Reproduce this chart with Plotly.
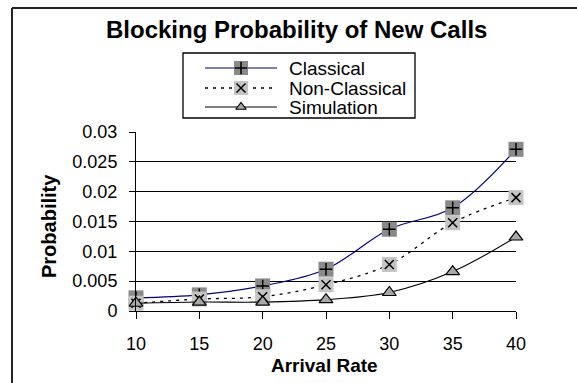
import plotly.graph_objects as go

# Arrival rate (x) and blocking probability of new calls for each model
arrival_rate = [10, 15, 20, 25, 30, 35, 40]
classical = [0.0022, 0.0027, 0.0042, 0.0070, 0.0137, 0.0173, 0.0271]
non_classical = [0.0013, 0.0020, 0.0024, 0.0044, 0.0078, 0.0148, 0.0190]
simulation = [0.0013, 0.0015, 0.0015, 0.0019, 0.0031, 0.0066, 0.0124]

x_ticks = [10, 15, 20, 25, 30, 35, 40]
y_ticks = [0, 0.005, 0.01, 0.015, 0.02, 0.025, 0.03]
y_tick_text = ["0", "0.005", "0.01", "0.015", "0.02", "0.025", "0.03"]

series_names = ["Classical", "Non-Classical", "Simulation"]

W, H = 577, 383
FONT = "Liberation Sans, Arial, sans-serif"

NAVY = "#000080"
DARK_SQ = "#8a8a8a"
LIGHT_SQ = "#c4c4c4"
TRI_FILL = "#a8a8a8"

# plot-area box in pixels
PX_L, PX_R, PX_T, PX_B = 136, 516, 132, 311
# legend box in pixels
LG_L, LG_R, LG_T, LG_B = 183, 415, 53, 118


def fx(px):
    return px / W


def fy(py):
    return 1 - py / H


fig = go.Figure()

line_styles = [
    dict(color=NAVY, width=1.2),
    dict(color="black", width=1.3, dash="3px,5px"),
    dict(color="black", width=1.1),
]
square_fills = [DARK_SQ, LIGHT_SQ, None]
overlay_symbols = ["cross-thin", "x-thin", None]
values = [classical, non_classical, simulation]

for name, vals, ls, fill, ov in zip(series_names, values, line_styles,
                                    square_fills, overlay_symbols):
    if fill is not None:
        fig.add_trace(go.Scatter(
            x=arrival_rate, y=vals, mode="lines+markers", name=name,
            line=dict(shape="spline", smoothing=1, **ls),
            marker=dict(symbol="square", size=15, color=fill,
                        line=dict(width=0)),
            cliponaxis=False, showlegend=False, hoverinfo="skip"))
        fig.add_trace(go.Scatter(
            x=arrival_rate, y=vals, mode="markers", name=name,
            marker=dict(symbol=ov, size=9, color="black",
                        line=dict(width=1.5, color="black")),
            cliponaxis=False, showlegend=False, hoverinfo="skip"))
    else:
        fig.add_trace(go.Scatter(
            x=arrival_rate, y=vals, mode="lines+markers", name=name,
            line=dict(shape="spline", smoothing=1, **ls),
            marker=dict(symbol="triangle-up", size=12, color=TRI_FILL,
                        line=dict(width=1.2, color="black")),
            cliponaxis=False, showlegend=False, hoverinfo="skip"))

# legend samples, drawn on a hidden pixel-scaled axis pair
row_y = [68, 88, 107]
for name, y, ls, fill, ov in zip(series_names, row_y, line_styles,
                                 square_fills, overlay_symbols):
    fig.add_trace(go.Scatter(
        x=[205, 277], y=[y, y], mode="lines", line=ls,
        xaxis="x2", yaxis="y2", showlegend=False, hoverinfo="skip",
        cliponaxis=False))
    if fill is not None:
        fig.add_trace(go.Scatter(
            x=[241], y=[y], mode="markers",
            marker=dict(symbol="square", size=14, color=fill,
                        line=dict(width=0)),
            xaxis="x2", yaxis="y2", showlegend=False, hoverinfo="skip",
            cliponaxis=False))
        fig.add_trace(go.Scatter(
            x=[241], y=[y], mode="markers",
            marker=dict(symbol=ov, size=9, color="black",
                        line=dict(width=1.5, color="black")),
            xaxis="x2", yaxis="y2", showlegend=False, hoverinfo="skip",
            cliponaxis=False))
    else:
        fig.add_trace(go.Scatter(
            x=[241], y=[y], mode="markers",
            marker=dict(symbol="triangle-up", size=9, color=TRI_FILL,
                        line=dict(width=1.2, color="black")),
            xaxis="x2", yaxis="y2", showlegend=False, hoverinfo="skip",
            cliponaxis=False))

annotations = [
    dict(text="<b>Blocking Probability of New Calls</b>", x=fx(296), y=fy(30),
         xref="paper", yref="paper", showarrow=False, xanchor="center",
         yanchor="middle", font=dict(size=24, family=FONT, color="black")),
    dict(text="<b>Arrival Rate</b>", x=fx(324), y=fy(365),
         xref="paper", yref="paper", showarrow=False, xanchor="center",
         yanchor="middle", font=dict(size=19, family=FONT, color="black")),
    dict(text="<b>Probability</b>", x=fx(49), y=fy(226), textangle=-90,
         xref="paper", yref="paper", showarrow=False, xanchor="center",
         yanchor="middle", font=dict(size=20, family=FONT, color="black")),
]
for name, y in zip(series_names, row_y):
    annotations.append(dict(
        text=name, x=287, y=y, xref="x2", yref="y2", showarrow=False,
        xanchor="left", yanchor="middle",
        font=dict(size=19, family=FONT, color="black")))

shapes = [
    # outer chart frame: left and top edges only, running off the page
    dict(type="line", xref="paper", yref="paper", x0=fx(12), y0=-0.1,
         x1=fx(12), y1=fy(8), line=dict(color="#222222", width=2)),
    dict(type="line", xref="paper", yref="paper", x0=fx(12), y0=fy(8),
         x1=1.1, y1=fy(8), line=dict(color="#222222", width=2)),
    # legend frame
    dict(type="rect", xref="x2 domain", yref="y2 domain", x0=0, y0=0,
         x1=1, y1=1, line=dict(color="black", width=1.3)),
]

fig.update_layout(
    width=W, height=H,
    margin=dict(l=0, r=0, t=0, b=0, pad=0),
    paper_bgcolor="white", plot_bgcolor="white",
    font=dict(family=FONT, color="black"),
    showlegend=False,
    annotations=annotations,
    shapes=shapes,
    xaxis=dict(
        domain=[fx(PX_L), fx(PX_R)], range=[10, 40],
        tickvals=x_ticks, ticktext=[str(v) for v in x_ticks],
        ticks="outside", ticklen=7, tickcolor="black", tickwidth=1,
        showline=True, linecolor="black", linewidth=1,
        showgrid=False, zeroline=False, automargin=False,
        tickfont=dict(size=18, family=FONT, color="black"),
        ticklabelstandoff=9),
    yaxis=dict(
        domain=[fy(PX_B), fy(PX_T)], range=[0, 0.03],
        tickvals=y_ticks, ticktext=y_tick_text,
        ticks="outside", ticklen=6, tickcolor="black", tickwidth=1,
        showline=True, linecolor="black", linewidth=1,
        showgrid=True, gridcolor="black", gridwidth=1,
        zeroline=False, automargin=False,
        tickfont=dict(size=18, family=FONT, color="black"),
        ticklabelstandoff=8),
    xaxis2=dict(domain=[fx(LG_L), fx(LG_R)], range=[LG_L, LG_R],
                visible=False, anchor="y2", fixedrange=True),
    yaxis2=dict(domain=[fy(LG_B), fy(LG_T)], range=[LG_B, LG_T],
                visible=False, anchor="x2", fixedrange=True),
)

fig.write_html("out.html")
